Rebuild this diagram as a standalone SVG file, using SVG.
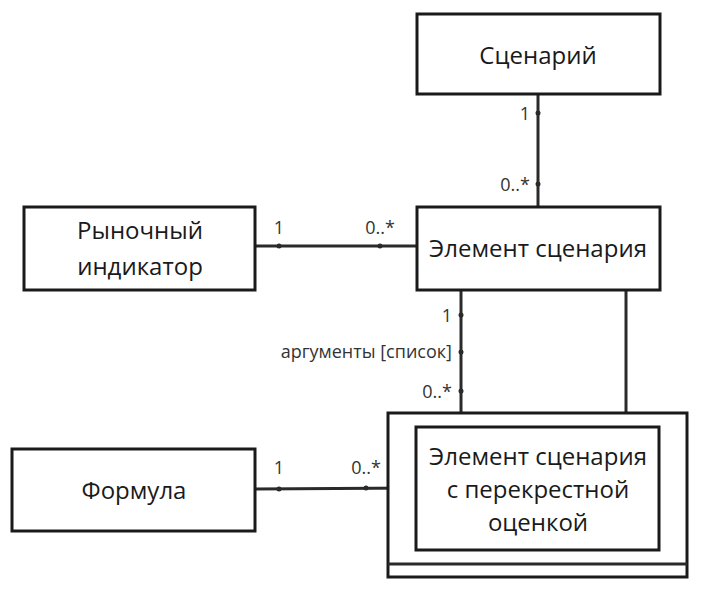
<svg xmlns="http://www.w3.org/2000/svg" width="709" height="601" viewBox="0 0 709 601">
<style>
.box{fill:#fff;stroke:#1a1a1a;stroke-width:3}
.ln{stroke:#2a2a2a;stroke-width:3;fill:none}
.t{font-family:"Open Sans","Noto Sans",sans-serif;font-size:24px;fill:#1a1a1a;text-anchor:middle}
.l{font-family:"Open Sans","Noto Sans",sans-serif;font-size:18px;fill:#333}
.dot{fill:#2a2a2a}
</style>
<rect width="709" height="601" fill="#fff"/>
<g id="connectors">
<line class="ln" x1="538" y1="94" x2="538" y2="207"/>
<circle class="dot" cx="538" cy="113" r="2.5"/>
<circle class="dot" cx="538" cy="184" r="2.5"/>
<text class="l" x="530" y="120" text-anchor="end">1</text>
<text class="l" x="530" y="191" text-anchor="end">0..*</text>
<line class="ln" x1="255" y1="246" x2="417" y2="246"/>
<circle class="dot" cx="279" cy="246" r="2.5"/>
<circle class="dot" cx="380" cy="246" r="2.5"/>
<text class="l" x="279" y="234" text-anchor="middle">1</text>
<text class="l" x="380" y="234" text-anchor="middle">0..*</text>
<line class="ln" x1="461" y1="290" x2="461" y2="427"/>
<circle class="dot" cx="461" cy="315" r="2.5"/>
<circle class="dot" cx="461" cy="352" r="2.5"/>
<circle class="dot" cx="461" cy="391" r="2.5"/>
<text class="l" x="452" y="322" text-anchor="end">1</text>
<text class="l" x="452" y="358" text-anchor="end">аргументы [список]</text>
<text class="l" x="452" y="398" text-anchor="end">0..*</text>
<line class="ln" x1="626" y1="290" x2="626" y2="413"/>
<line class="ln" x1="255" y1="489" x2="416" y2="488"/>
<circle class="dot" cx="279" cy="489" r="2.5"/>
<circle class="dot" cx="366" cy="488" r="2.5"/>
<text class="l" x="279" y="474" text-anchor="middle">1</text>
<text class="l" x="366" y="474" text-anchor="middle">0..*</text>
</g>
<g id="scenario">
<rect class="box" x="417" y="14" width="243" height="80"/>
<text class="t" x="538" y="64">Сценарий</text>
</g>
<g id="market-indicator">
<rect class="box" x="24" y="207" width="231" height="83"/>
<text class="t" x="140" y="239">Рыночный</text>
<text class="t" x="140" y="275">индикатор</text>
</g>
<g id="scenario-element">
<rect class="box" x="417" y="207" width="243" height="83"/>
<text class="t" x="538" y="257">Элемент сценария</text>
</g>
<g id="formula">
<rect class="box" x="12" y="449" width="243" height="82"/>
<text class="t" x="134" y="499">Формула</text>
</g>
<g id="cross-element">
<rect class="box" x="388" y="413" width="299" height="164"/>
<line class="ln" x1="388" y1="564" x2="687" y2="564"/>
<rect class="box" x="416" y="427" width="243" height="123"/>
<text class="t" x="538" y="465">Элемент сценария</text>
<text class="t" x="538" y="498">с перекрестной</text>
<text class="t" x="538" y="531">оценкой</text>
</g>
</svg>
